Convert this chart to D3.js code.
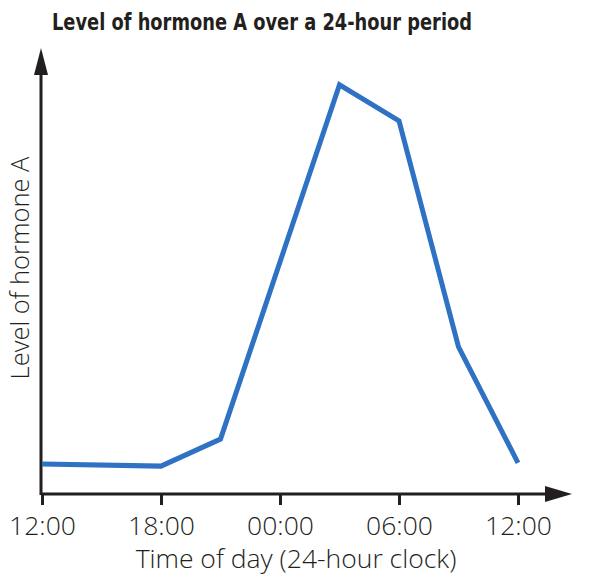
<!DOCTYPE html>
<html>
<head>
<meta charset="utf-8">
<script src="https://cdn.jsdelivr.net/npm/d3@7"></script>
<style>
  body { margin: 0; background: #fff; }
  .tick text { font-family: "Open Sans", sans-serif; font-weight: 300; }
</style>
</head>
<body>
<div class="svg-content"></div>
<script>
// hours since 12:00 on day 1
var hours  = [0, 6, 9, 15, 18, 21, 24];
var levels = [7.3, 6.8, 13.4, 99.8, 91, 35.9, 7.6];
var tickHours  = [0, 6, 12, 18, 24];
var tickLabels = ["12:00", "18:00", "00:00", "06:00", "12:00"];

var width = 589, height = 575;
var x0 = 41, y0 = 494;

var x = d3.scaleLinear().domain([0, 24]).range([42, 518]);
var y = d3.scaleLinear().domain([0, 100]).range([y0, 84]);

var svg = d3.select(".svg-content")
    .append("svg")
    .attr("width", width)
    .attr("height", height);

var ink = "#231f20";

// title (condensed bold, squeezed to the reference width)
svg.append("text")
    .attr("x", 262)
    .attr("y", 30)
    .attr("text-anchor", "middle")
    .attr("font-family", "'DejaVu Sans Condensed', 'Liberation Sans Narrow', sans-serif")
    .attr("font-weight", "bold")
    .attr("font-size", 23)
    .attr("textLength", 420)
    .attr("lengthAdjust", "spacingAndGlyphs")
    .attr("fill", ink)
    .text("Level of hormone A over a 24-hour period");

// x ticks
var xAxis = d3.axisBottom(x)
    .tickValues(tickHours)
    .tickSize(11)
    .tickPadding(11)
    .tickFormat(function(d, i) { return tickLabels[i]; });

var gx = svg.append("g")
    .attr("transform", "translate(0," + y0 + ")")
    .call(xAxis);
gx.select(".domain").remove();
gx.selectAll(".tick line").attr("stroke", ink).attr("stroke-width", 3);
gx.selectAll(".tick text").attr("font-size", 26.5).attr("fill", ink);

// axis lines
svg.append("line")
    .attr("x1", x0).attr("y1", y0)
    .attr("x2", 548).attr("y2", y0)
    .attr("stroke", ink).attr("stroke-width", 3);
svg.append("line")
    .attr("x1", x0).attr("y1", y0 + 1)
    .attr("x2", x0).attr("y2", 70)
    .attr("stroke", ink).attr("stroke-width", 3);

// arrow heads
svg.append("path")
    .attr("d", "M545," + (y0 - 8) + "L572," + y0 + "L545," + (y0 + 8) + "Z")
    .attr("fill", ink);
svg.append("path")
    .attr("d", "M" + (x0 - 7) + ",75L" + x0 + ",48L" + (x0 + 7) + ",75Z")
    .attr("fill", ink);

// data line
var line = d3.line()
    .x(function(d, i) { return x(hours[i]); })
    .y(function(d) { return y(d); });

svg.append("path")
    .datum(levels)
    .attr("d", line)
    .attr("fill", "none")
    .attr("stroke", "#2f72c4")
    .attr("stroke-width", 5)
    .attr("stroke-linejoin", "miter");

// axis titles
svg.append("text")
    .attr("x", 296)
    .attr("y", 568)
    .attr("text-anchor", "middle")
    .attr("font-family", "'Open Sans', sans-serif")
    .attr("font-weight", 300)
    .attr("font-size", 26.5)
    .attr("fill", ink)
    .text("Time of day (24-hour clock)");

svg.append("text")
    .attr("transform", "translate(29,268) rotate(-90)")
    .attr("text-anchor", "middle")
    .attr("font-family", "'Open Sans', sans-serif")
    .attr("font-weight", 300)
    .attr("font-size", 25.5)
    .attr("fill", ink)
    .text("Level of hormone A");
</script>
</body>
</html>
